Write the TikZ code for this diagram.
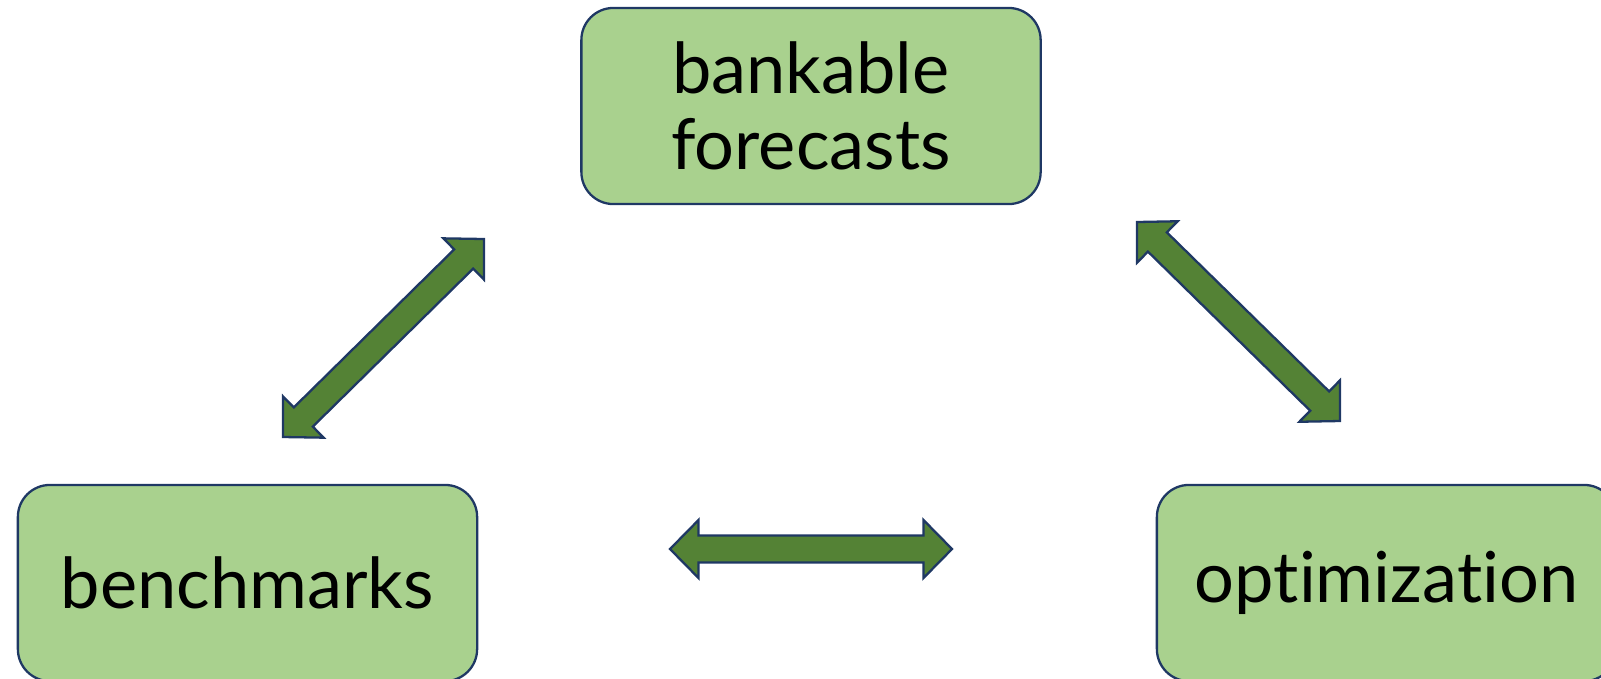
\documentclass[tikz,border=0pt]{standalone}
\usepackage{fontspec}
\setmainfont{Lato}[Ligatures={NoCommon}]
\usetikzlibrary{calc}
\definecolor{boxfill}{HTML}{A9D18E}
\definecolor{arrowfill}{HTML}{548235}
\definecolor{navyline}{HTML}{1F3864}
\tikzset{
  box/.style={draw=navyline, fill=boxfill, line width=0.65pt, rounded corners=0.32cm,
    minimum width=4.59cm, minimum height=1.96cm, align=center, inner sep=0pt,
    font=\fontsize{20}{21.6}\selectfont, text=black},
  blockarrowstyle/.style={draw=navyline, fill=arrowfill, line width=0.65pt, line join=miter}
}
\newcommand\blockarrow[2]{%
  \coordinate (#1-c) at ($(#1)!0.285cm!(#2)$);
  \coordinate (#2-c) at ($(#2)!0.285cm!(#1)$);
  \path[blockarrowstyle] (#1)
    -- ($(#1-c)!0.29cm!90:(#2)$)
    -- ($(#1-c)!0.135cm!90:(#2)$)
    -- ($(#2-c)!0.135cm!-90:(#1)$)
    -- ($(#2-c)!0.29cm!-90:(#1)$)
    -- (#2)
    -- ($(#2-c)!0.29cm!90:(#1)$)
    -- ($(#2-c)!0.135cm!90:(#1)$)
    -- ($(#1-c)!0.135cm!-90:(#2)$)
    -- ($(#1-c)!0.29cm!-90:(#2)$)
    -- cycle;}
\begin{document}
\begin{tikzpicture}[x=0.01cm,y=-0.01cm]
\useasboundingbox (0,0) rectangle (1601,678);
\node[box] (forecasts) at (811,106) {bankable\\forecasts};
\node[box] (benchmarks) at (247.5,583) {benchmarks};
\node[box] (optimization) at (1386.5,583) {optimization};
\coordinate (a1) at (283,437);
\coordinate (a2) at (484,239);
\coordinate (b1) at (1137,222);
\coordinate (b2) at (1340,421);
\coordinate (c1) at (670,549);
\coordinate (c2) at (952,549);
\blockarrow{a1}{a2}
\blockarrow{b1}{b2}
\blockarrow{c1}{c2}
\end{tikzpicture}
\end{document}
